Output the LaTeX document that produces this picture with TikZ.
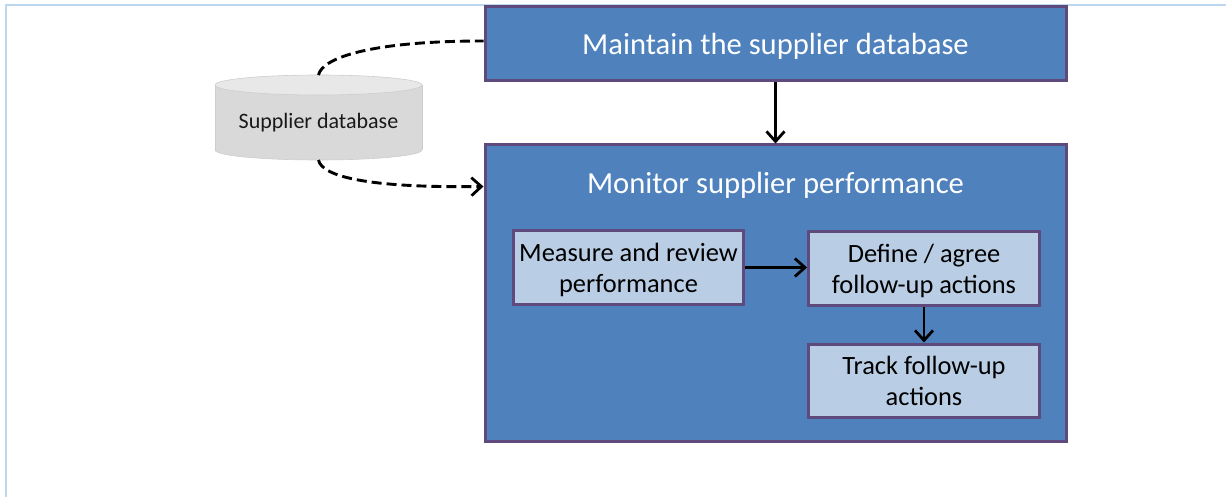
\documentclass[tikz,border=0pt]{standalone}
\usepackage{fontspec}
\setmainfont{Carlito}
\usetikzlibrary{arrows.meta,calc}
\definecolor{boxblue}{HTML}{4F81BD}
\definecolor{boxpale}{HTML}{B9CDE5}
\definecolor{boxedge}{HTML}{5F4A7D}
\definecolor{framecol}{HTML}{BDD7EE}
\definecolor{dbbody}{HTML}{D9D9D9}
\definecolor{dbtop}{HTML}{E8E8E8}
\definecolor{dbedge}{HTML}{CDCDCD}
\tikzset{
  procbox/.style={draw=boxedge, line width=3pt, fill=boxblue, inner sep=0pt},
  proctext/.style={text=white, inner sep=0pt, font=\fontsize{30.6}{36}\selectfont},
  subbox/.style={draw=boxedge, line width=3pt, fill=boxpale, inner sep=0pt,
    minimum width=230pt, minimum height=73pt},
  subtext/.style={text=black, inner sep=0pt, align=center,
    font=\fontsize{26.4}{31}\selectfont},
  tip/.style={-{Straight Barb[length=10pt,width=18pt,line width=2.8pt]}},
  flow/.style={line width=2.8pt, tip},
  dataflow/.style={line width=2.9pt, dash pattern=on 10pt off 5pt},
}
\begin{document}
\begin{tikzpicture}[x=1pt,y=-1pt]
\useasboundingbox (0,0) rectangle (1226,497);
% page frame
\draw[framecol, line width=2pt] (1226,5.5) -- (5.5,5.5) -- (5.5,497);

% process boxes
\node[procbox, minimum width=581pt, minimum height=74pt] (maint) at (775.5,44) {};
\node[proctext] (mainttext) at (775.5,46) {Maintain the supplier database};
\node[procbox, minimum width=581pt, minimum height=296pt] (mon) at (775.5,293) {};
\node[proctext] (montitle) at (775.5,185.5) {Monitor supplier performance};

\node[subbox] (measure) at (628.5,267.5) {};
\node[subtext] (measuretext) at (628.5,270) {Measure and review\\performance};
\node[subbox, minimum width=231pt] (define) at (924,268.5) {};
\node[subtext] (definetext) at (924,271) {Define / agree\\follow-up actions};
\node[subbox, minimum width=231pt] (track) at (924,380.5) {};
\node[subtext] (tracktext) at (924,380.5) {Track follow-up\\actions};

% supplier database cylinder
\fill[dbbody] (215,85) rectangle (422,150);
\fill[dbbody] (318.5,150) ellipse [x radius=103.5, y radius=10];
\draw[dbedge, line width=0.6pt] (215,85) -- (215,150) (422,85) -- (422,150);
\draw[dbedge, line width=0.6pt] (215,150) arc[start angle=180, end angle=360, x radius=103.5, y radius=-10];
\filldraw[fill=dbtop, draw=dbedge, line width=0.6pt] (318.5,85) ellipse [x radius=103.5, y radius=10];
\node[font=\fontsize{22}{26}\selectfont, text=black!90, inner sep=0pt] (db) at (318.5,123) {Supplier database};
\coordinate (dbtopend) at (318.5,75);
\coordinate (dbbotend) at (318.5,160);
\coordinate (monin) at ($(mon.north west)+(0,43)$);

% connectors
\draw[flow] (maint.south) -- (mon.north);
\draw[flow] (measure.east) -- (measure.east -| define.west);
\draw[flow] (define.south) -- (track.north);
\draw[dataflow] (dbtopend) .. controls (322,58) and (370,41) .. ([yshift=3pt]maint.west);
\draw[dataflow, tip] (dbbotend) .. controls (322,177) and (370,188) .. (monin);
\end{tikzpicture}
\end{document}
